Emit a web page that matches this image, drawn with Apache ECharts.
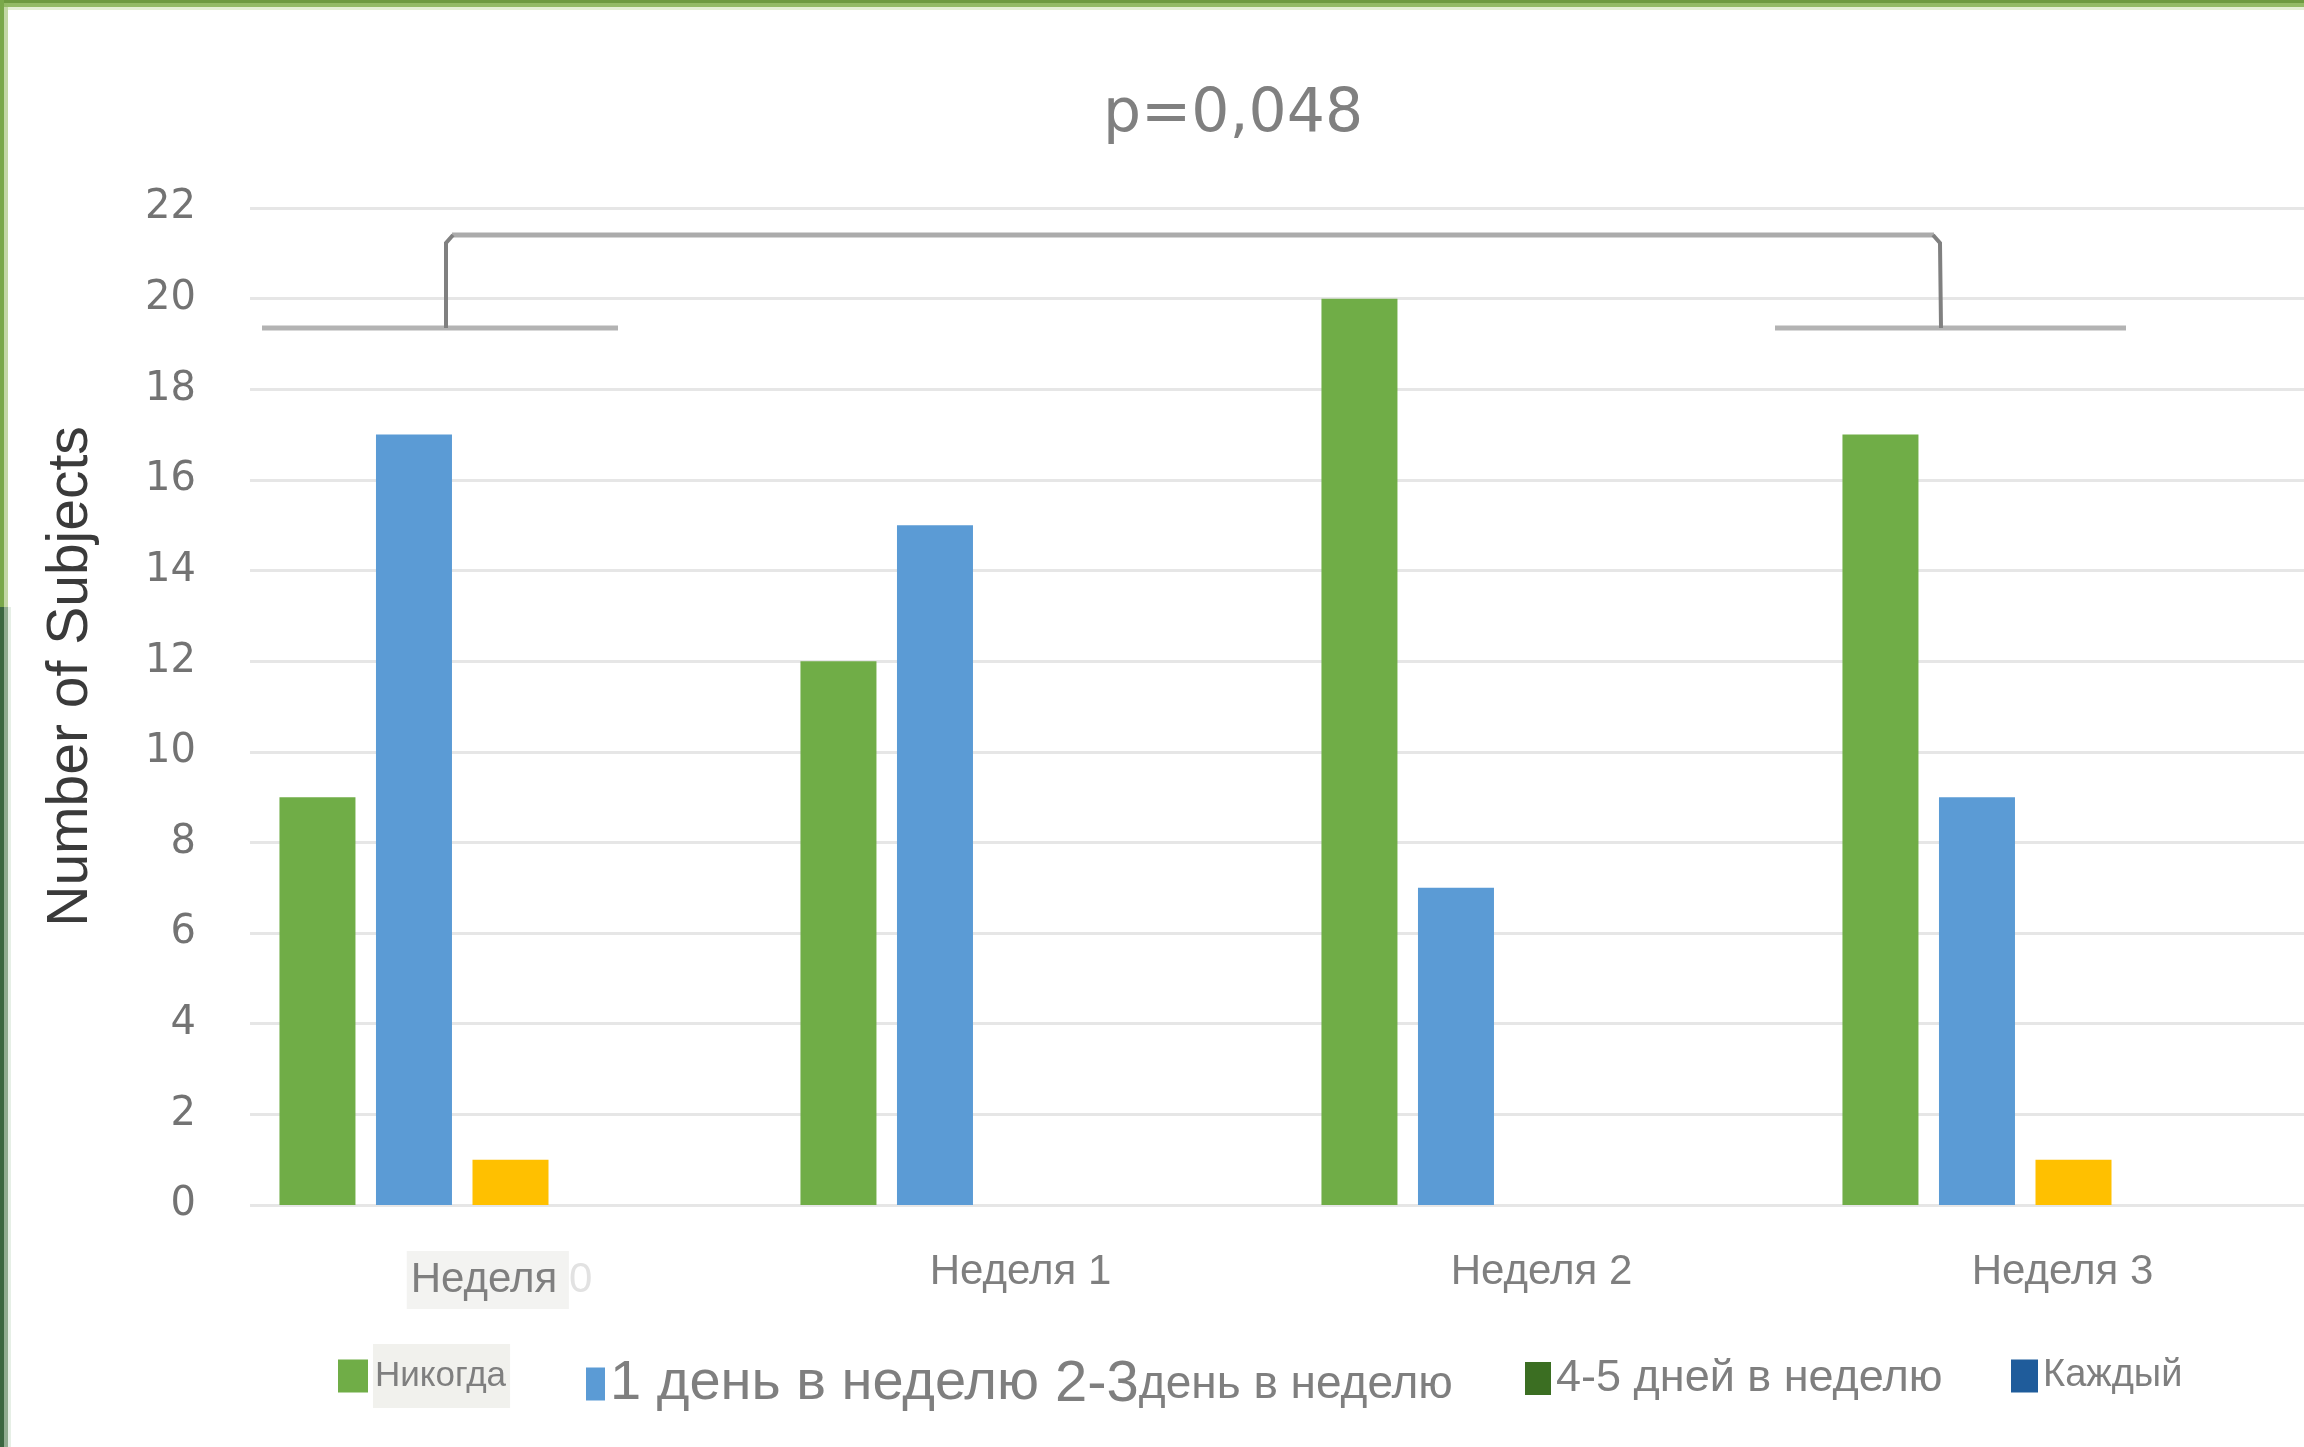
<!DOCTYPE html>
<html><head><meta charset="utf-8">
<script src="https://cdn.jsdelivr.net/npm/echarts@6/dist/echarts.min.js"></script>
<style>html,body{margin:0;padding:0;background:#fff;overflow:hidden}#c{width:2334px;height:1447px}</style>
</head><body><div id="c"></div>
<script>
// ---- data ----
const categories = ['Неделя 0', 'Неделя 1', 'Неделя 2', 'Неделя 3'];
const seriesNames = ['Никогда', '1 день в неделю', '2-3день в неделю', '4-5 дней в неделю', 'Каждый'];
const never = [9, 12, 20, 17];
const oneDay = [17, 15, 7, 9];
const twoThree = [1, 0, 0, 1];
const fourFive = [0, 0, 0, 0];
const daily = [0, 0, 0, 0];
const yMin = 0, yMax = 22, yStep = 2;
const pValueText = 'p=0,048';
const yAxisTitle = 'Number of Subjects';

// ---- styles ----
const colors = ['#70AD47', '#5B9BD5', '#FFC000', '#3B6E22', '#1F5C9B'];
const values = [never, oneDay, twoThree, fourFive, daily];
const gray = '#7f7f7f';

const chart = echarts.init(document.getElementById('c'), null, {renderer: 'canvas'});

const series = seriesNames.map((n, i) => ({
  name: n, type: 'bar', data: values[i],
  barWidth: 76, barGap: '27%',
  itemStyle: {color: colors[i]},
  emphasis: {disabled: true}
}));

function legendItem(name, left, itemWidth, textStyle, extra) {
  return Object.assign({
    data: [{name: name}], left: left, top: 1351, orient: 'horizontal',
    icon: 'rect', itemWidth: itemWidth, itemHeight: 33, selectedMode: false,
    textStyle: Object.assign({color: gray, fontFamily: 'Liberation Sans', lineHeight: 40}, textStyle)
  }, extra || {});
}

const option = {
  backgroundColor: '#ffffff',
  animation: false,
  title: {
    text: pValueText, left: 1098, top: 80,
    textStyle: {fontFamily: 'DejaVu Sans', fontSize: 60, fontWeight: 'normal', color: '#808080'}
  },
  grid: {left: 250, right: 0, top: 208, bottom: 242},
  legend: [
    legendItem(seriesNames[0], 333, 30, {fontSize: 35, backgroundColor: '#f1f1ed', padding: [12, 4, 12, 2]}, {top: 1339}),
    legendItem(seriesNames[1], 581, 19, {fontSize: 56, padding: [0, 0, 0, 0]}),
    {
      data: [{name: seriesNames[2], itemStyle: {opacity: 0}}], left: 1043, top: 1351,
      icon: 'rect', itemWidth: 2, itemHeight: 33, selectedMode: false,
      formatter: function () { return '{a|2-3}{b|день в неделю}'; },
      textStyle: {color: gray, fontFamily: 'Liberation Sans', lineHeight: 40,
        rich: {a: {fontSize: 58, color: gray, fontFamily: 'Liberation Sans', lineHeight: 40},
               b: {fontSize: 46, color: gray, fontFamily: 'Liberation Sans', lineHeight: 40}}}
    },
    legendItem(seriesNames[3], 1520, 26, {fontSize: 45}),
    legendItem(seriesNames[4], 2006, 27, {fontSize: 38})
  ],
  xAxis: {
    type: 'category', data: categories,
    axisLine: {show: false}, axisTick: {show: false},
    axisLabel: {
      margin: 46, color: gray, fontFamily: 'Liberation Sans', fontSize: 42,
      padding: [0, 22, 0, 0],
      formatter: function (v, i) {
        if (i === 0) return '{bg|Неделя }{f|0}';
        return '{n|' + v + '}';
      },
      rich: {
        n: {fontSize: 42, color: gray, fontFamily: 'Liberation Sans'},
        bg: {fontSize: 42, color: gray, fontFamily: 'Liberation Sans', backgroundColor: '#f3f3f1', padding: [8, 0, 8, 4]},
        f: {fontSize: 42, color: '#e2e2e2', fontFamily: 'Liberation Sans'}
      }
    }
  },
  yAxis: {
    type: 'value', min: yMin, max: yMax, interval: yStep,
    name: yAxisTitle, nameLocation: 'middle', nameGap: 150, nameRotate: 90,
    nameTextStyle: {fontFamily: 'Liberation Sans', fontSize: 57, color: '#3a3a3a', padding: [0, 0, 0, 60]},
    axisLine: {show: false}, axisTick: {show: false},
    axisLabel: {margin: 54, color: '#737373', fontFamily: 'DejaVu Sans', fontSize: 40},
    splitLine: {lineStyle: {color: '#e6e6e6', width: 3}}
  },
  series: series,
  graphic: [
    // bracket annotation
    {type: 'polyline', shape: {points: [[262, 328], [618, 328]]}, style: {stroke: '#b3b3b3', lineWidth: 5, fill: null}, z: 100},
    {type: 'polyline', shape: {points: [[1775, 328], [2126, 328]]}, style: {stroke: '#b3b3b3', lineWidth: 5, fill: null}, z: 100},
    {type: 'polyline', shape: {points: [[452, 235], [1934, 235]]}, style: {stroke: '#ababab', lineWidth: 5, fill: null}, z: 100},
    {type: 'polyline', shape: {points: [[446, 328], [446, 243], [453, 235]]}, style: {stroke: '#808080', lineWidth: 4, fill: null}, z: 101},
    {type: 'polyline', shape: {points: [[1933, 235], [1940, 243], [1941, 328]]}, style: {stroke: '#808080', lineWidth: 4, fill: null}, z: 101},
    // frame of the picture
    {type: 'rect', shape: {x: 0, y: 0, width: 2334, height: 3}, style: {fill: '#6e9a40'}, z: 200},
    {type: 'rect', shape: {x: 0, y: 3, width: 2334, height: 4}, style: {fill: '#93ba65'}, z: 200},
    {type: 'rect', shape: {x: 0, y: 7, width: 2334, height: 3}, style: {fill: '#e4efd4'}, z: 200},
    {type: 'rect', shape: {x: 0, y: 0, width: 4, height: 607}, style: {fill: '#7aa84a'}, z: 201},
    {type: 'rect', shape: {x: 4, y: 7, width: 4, height: 600}, style: {fill: '#c3d7a5'}, z: 201},
    {type: 'rect', shape: {x: 0, y: 607, width: 4, height: 840}, style: {fill: '#3b6640'}, z: 201},
    {type: 'rect', shape: {x: 4, y: 607, width: 4, height: 840}, style: {fill: '#8fab8f'}, z: 201},
    {type: 'rect', shape: {x: 8, y: 607, width: 3, height: 840}, style: {fill: '#e6efe6'}, z: 201}
  ]
};
chart.setOption(option);
</script>
</body></html>
